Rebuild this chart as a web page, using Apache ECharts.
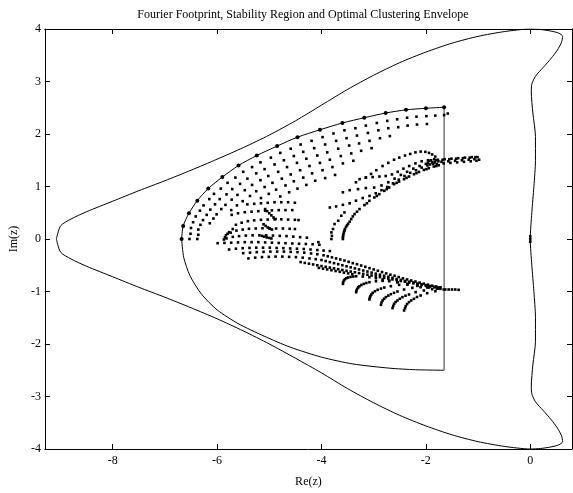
<!DOCTYPE html>
<html><head><meta charset="utf-8">
<script src="https://cdn.jsdelivr.net/npm/echarts@6/dist/echarts.min.js"></script>
<style>html,body{margin:0;padding:0;background:#fff}#c{width:573px;height:493px}</style>
</head><body><div id="c"></div>
<script>
// ---- stability region boundary ----
const stabUpperLeft = [[-9.08,0],[-9.0,0.25],[-8.8,0.38],[-8.5,0.52],[-8.0,0.72],[-7.5,0.92],[-7.0,1.11],[-6.5,1.31],[-6.0,1.52],[-5.5,1.74],[-5.0,1.98],[-4.5,2.25],[-4.0,2.55],[-3.5,2.85],[-3.0,3.12],[-2.5,3.36],[-2.0,3.56],[-1.5,3.73],[-1.0,3.86],[-0.5,3.95],[0,4.0]];
const stabRightUpper = [[0,4.0],[0.2,3.99],[0.4,3.96],[0.55,3.92],[0.62,3.86],[0.6,3.75],[0.52,3.6],[0.4,3.44],[0.25,3.27],[0.1,3.1],[0.03,2.95],[0.02,2.8],[0.05,2.4],[0.1,1.95],[0.1,1.5],[0.07,1.0],[0.03,0.5],[0,0]];
const stabLowerLeft = [[0,-4.0],[-0.5,-3.95],[-1.0,-3.86],[-1.5,-3.73],[-2.0,-3.56],[-2.5,-3.36],[-3.0,-3.12],[-3.5,-2.85],[-4.0,-2.55],[-4.5,-2.27],[-5.0,-2.0],[-5.5,-1.75],[-6.0,-1.52],[-6.5,-1.31],[-7.0,-1.11],[-7.5,-0.92],[-8.0,-0.72],[-8.5,-0.52],[-8.8,-0.38],[-9.0,-0.25],[-9.08,0]];

// ---- optimal clustering envelope ----
const envUpper = [[-1.65,2.51],[-2.0,2.49],[-2.38,2.46],[-2.77,2.40],[-3.18,2.31],[-3.60,2.21],[-4.03,2.08],[-4.46,1.94],[-4.85,1.77],[-5.24,1.59],[-5.59,1.40],[-5.90,1.18],[-6.17,0.96],[-6.38,0.73],[-6.54,0.49],[-6.65,0.25],[-6.68,0.0]];
const envLower = [[-6.68,0.0],[-6.64,-0.35],[-6.52,-0.7],[-6.3,-1.05],[-6.0,-1.35],[-5.6,-1.61],[-5.1,-1.85],[-4.6,-2.06],[-4.0,-2.25],[-3.4,-2.38],[-2.7,-2.46],[-2.2,-2.49],[-1.65,-2.5]];
const envEdge = [[-1.65,-2.5],[-1.65,2.51]];

// ---- Fourier footprint: upper band, rows parallel to the envelope ----
const rowU1 = [[-1.58,2.39],[-1.65,2.36],[-1.82,2.35],[-1.99,2.34],[-2.18,2.33],[-2.36,2.31],[-2.55,2.28],[-2.74,2.25],[-2.94,2.21],[-3.15,2.16],[-3.35,2.11],[-3.56,2.07],[-3.77,2.01],[-3.98,1.94],[-4.19,1.87],[-4.40,1.80],[-4.59,1.72],[-4.79,1.64],[-4.97,1.55],[-5.17,1.46],[-5.33,1.37],[-5.50,1.28],[-5.65,1.17],[-5.80,1.07],[-5.93,0.96],[-6.06,0.86],[-6.15,0.76],[-6.26,0.64],[-6.33,0.54],[-6.41,0.43],[-6.46,0.32],[-6.50,0.21],[-6.51,0.10],[-6.53,0.0]];
const rowU2 = [[-1.98,2.19],[-2.17,2.18],[-2.35,2.16],[-2.53,2.13],[-2.72,2.11],[-2.91,2.07],[-3.11,2.02],[-3.32,1.97],[-3.52,1.92],[-3.72,1.87],[-3.93,1.80],[-4.14,1.73],[-4.35,1.66],[-4.53,1.58],[-4.72,1.50],[-4.90,1.42],[-5.09,1.33],[-5.25,1.25],[-5.42,1.15],[-5.56,1.05],[-5.71,0.95],[-5.82,0.85],[-5.95,0.76],[-6.04,0.66],[-6.13,0.56],[-6.20,0.46],[-6.27,0.36],[-6.32,0.27],[-6.36,0.18],[-6.36,0.08],[-6.38,0.0]];
const rowU3 = [[-2.69,1.96],[-2.88,1.92],[-3.08,1.87],[-3.28,1.82],[-3.47,1.78],[-3.68,1.72],[-3.89,1.65],[-4.08,1.59],[-4.29,1.53],[-4.47,1.45],[-4.66,1.37],[-4.83,1.28],[-5.02,1.20],[-5.17,1.12],[-5.33,1.03],[-5.47,0.93],[-5.61,0.84],[-5.72,0.75],[-5.84,0.65],[-5.92,0.57],[-6.01,0.47],[-6.07,0.39],[-6.14,0.30]];
const rowU4 = [[-3.04,1.73],[-3.24,1.68],[-3.43,1.63],[-3.63,1.58],[-3.84,1.51],[-4.03,1.45],[-4.23,1.39],[-4.41,1.31],[-4.59,1.23],[-4.76,1.15],[-4.94,1.07],[-5.09,0.99],[-5.25,0.91],[-5.37,0.82],[-5.51,0.72],[-5.62,0.64],[-5.73,0.55]];
const rowU5 = [[-3.39,1.49],[-3.59,1.44],[-3.79,1.37],[-3.98,1.31],[-4.18,1.25],[-4.35,1.17],[-4.53,1.10],[-4.69,1.02],[-4.87,0.94],[-5.01,0.86],[-5.16,0.78]];
const rowU6 = [[-3.74,1.22],[-3.93,1.16],[-4.12,1.11],[-4.29,1.03],[-4.46,0.96],[-4.62,0.89],[-4.79,0.81]];

// ---- mid-left fan of rows ----
const fanA = [[-5.42,0.66],[-5.29,0.67],[-5.16,0.68],[-5.03,0.69],[-4.90,0.70],[-4.77,0.70],[-4.64,0.70],[-4.51,0.69]];
const fanB = [[-5.72,0.46],[-5.60,0.49],[-5.47,0.51],[-5.34,0.52],[-5.21,0.53],[-5.08,0.54],[-4.95,0.545],[-4.82,0.55],[-4.69,0.55],[-4.56,0.55]];
const fanC = [[-5.64,0.27],[-5.53,0.31],[-5.41,0.34],[-5.29,0.355],[-5.16,0.365],[-5.03,0.37],[-4.90,0.375],[-4.77,0.375],[-4.64,0.37],[-4.51,0.365],[-4.44,0.36]];
const fanD = [[-5.74,0.12],[-5.63,0.16],[-5.51,0.18],[-5.39,0.195],[-5.26,0.2],[-5.13,0.205],[-5.0,0.205],[-4.87,0.2],[-4.74,0.2],[-4.61,0.195],[-4.51,0.19]];
const fanE = [[-5.82,0.01],[-5.70,0.04],[-5.58,0.055],[-5.45,0.065],[-5.32,0.07],[-5.19,0.07],[-5.06,0.07],[-4.93,0.065],[-4.80,0.06],[-4.67,0.055],[-4.54,0.045],[-4.41,0.035],[-4.28,0.025]];
const fanF = [[-5.99,-0.08],[-5.86,-0.075],[-5.73,-0.07],[-5.60,-0.065],[-5.47,-0.06],[-5.34,-0.06],[-5.21,-0.06],[-5.08,-0.065],[-4.95,-0.07],[-4.82,-0.075],[-4.69,-0.08],[-4.56,-0.085],[-4.43,-0.09],[-4.30,-0.095],[-4.17,-0.10],[-4.04,-0.11]];
const fanG = [[-5.77,-0.20],[-5.64,-0.185],[-5.51,-0.175],[-5.38,-0.17],[-5.25,-0.165],[-5.12,-0.165],[-4.99,-0.165],[-4.86,-0.17],[-4.73,-0.175],[-4.60,-0.18],[-4.47,-0.185],[-4.34,-0.19],[-4.21,-0.20],[-4.08,-0.21],[-3.96,-0.22],[-3.84,-0.23]];
const fanHooks = [[-5.87,-0.01],[-5.85,0.03],[-5.83,0.07],[-5.80,0.10],[-5.77,0.13],[-5.70,0.19],
  [-5.08,0.57],[-5.04,0.53],[-5.0,0.49],[-4.96,0.45],[-4.92,0.41],[-4.88,0.38],
  [-5.11,0.28],[-5.07,0.25],[-5.03,0.22],[-4.99,0.20],[-4.95,0.18],
  [-5.14,0.06],[-5.10,0.045],[-5.05,0.03],[-5.0,0.02],[-4.96,0.01]];

// ---- lower tail band ----
const tailR1 = [[-5.50,-0.27],[-5.37,-0.26],[-5.24,-0.25],[-5.11,-0.245],[-4.98,-0.24],[-4.85,-0.24],[-4.72,-0.24],[-4.59,-0.245],[-4.46,-0.25],[-4.33,-0.26],[-4.20,-0.275],[-4.08,-0.29],[-3.96,-0.31],[-3.88,-0.33],[-3.80,-0.35],[-3.72,-0.37],[-3.64,-0.39],[-3.56,-0.41],[-3.48,-0.435],[-3.40,-0.46],[-3.32,-0.48],[-3.24,-0.505],[-3.16,-0.53],[-3.08,-0.555],[-3.0,-0.58],[-2.92,-0.605],[-2.84,-0.63],[-2.76,-0.655],[-2.68,-0.68],[-2.60,-0.70],[-2.52,-0.725],[-2.44,-0.75],[-2.36,-0.77],[-2.28,-0.79],[-2.20,-0.81],[-2.12,-0.83],[-2.04,-0.85],[-1.96,-0.87],[-1.88,-0.89],[-1.80,-0.905],[-1.72,-0.92]];
const tailR2 = [[-5.40,-0.37],[-5.27,-0.355],[-5.14,-0.345],[-5.01,-0.34],[-4.88,-0.335],[-4.75,-0.335],[-4.62,-0.34],[-4.49,-0.345],[-4.36,-0.355],[-4.23,-0.37],[-4.11,-0.385],[-4.0,-0.40],[-3.92,-0.42],[-3.84,-0.44],[-3.76,-0.46],[-3.68,-0.48],[-3.60,-0.50],[-3.52,-0.52],[-3.44,-0.54],[-3.36,-0.56],[-3.28,-0.58],[-3.20,-0.60],[-3.12,-0.62],[-3.04,-0.64],[-2.96,-0.66],[-2.88,-0.68],[-2.80,-0.70],[-2.72,-0.72],[-2.64,-0.74],[-2.56,-0.76],[-2.48,-0.78],[-2.40,-0.80],[-2.32,-0.815],[-2.24,-0.83],[-2.16,-0.85],[-2.08,-0.865],[-2.0,-0.88],[-1.92,-0.895],[-1.84,-0.91],[-1.76,-0.925]];
const tailR3 = [[-4.40,-0.44],[-4.32,-0.455],[-4.24,-0.47],[-4.16,-0.485],[-4.08,-0.50],[-4.0,-0.515],[-3.92,-0.53],[-3.84,-0.545],[-3.76,-0.56],[-3.68,-0.575],[-3.60,-0.59],[-3.52,-0.605],[-3.44,-0.62],[-3.36,-0.635],[-3.28,-0.65],[-3.20,-0.665],[-3.12,-0.68],[-3.04,-0.695],[-2.96,-0.71],[-2.88,-0.725],[-2.80,-0.74],[-2.72,-0.755],[-2.64,-0.77],[-2.56,-0.785],[-2.48,-0.80],[-2.40,-0.815],[-2.32,-0.83],[-2.24,-0.845],[-2.16,-0.86],[-2.08,-0.875],[-2.0,-0.89],[-1.92,-0.905],[-1.84,-0.92],[-1.76,-0.935]];
const tailR4 = [[-4.05,-0.55],[-3.97,-0.565],[-3.89,-0.58],[-3.81,-0.595],[-3.73,-0.61],[-3.65,-0.625],[-3.57,-0.64],[-3.49,-0.655],[-3.41,-0.67]];
const hook1 = [[-3.589,-0.855],[-3.585,-0.82],[-3.570,-0.791],[-3.55,-0.765],[-3.525,-0.747],[-3.49,-0.733],[-3.443,-0.722],[-3.39,-0.714],[-3.335,-0.709],[-3.209,-0.715],[-3.082,-0.728],[-2.956,-0.747],[-2.829,-0.772],[-2.703,-0.791],[-2.544,-0.823],[-2.354,-0.861],[-2.165,-0.893],[-1.975,-0.918],[-1.785,-0.937]];
const hook2 = [[-3.335,-1.013],[-3.33,-0.98],[-3.316,-0.949],[-3.295,-0.922],[-3.272,-0.899],[-3.235,-0.875],[-3.190,-0.855],[-3.14,-0.838],[-3.082,-0.823],[-2.956,-0.804],[-2.829,-0.798],[-2.703,-0.804],[-2.544,-0.823],[-2.355,-0.855],[-2.165,-0.886],[-1.975,-0.918],[-1.785,-0.937]];
const hook3 = [[-3.082,-1.152],[-3.075,-1.12],[-3.063,-1.089],[-3.045,-1.057],[-3.019,-1.025],[-2.975,-0.995],[-2.924,-0.968],[-2.86,-0.945],[-2.797,-0.924],[-2.671,-0.899],[-2.513,-0.874],[-2.354,-0.867],[-2.165,-0.880],[-1.975,-0.905],[-1.785,-0.937]];
const hook4 = [[-2.861,-1.253],[-2.85,-1.21],[-2.829,-1.171],[-2.80,-1.138],[-2.766,-1.108],[-2.72,-1.078],[-2.671,-1.051],[-2.61,-1.025],[-2.544,-1.000],[-2.418,-0.962],[-2.259,-0.930],[-2.101,-0.918],[-1.943,-0.924],[-1.753,-0.943]];
const hook5 = [[-2.639,-1.317],[-2.625,-1.275],[-2.608,-1.234],[-2.58,-1.20],[-2.544,-1.171],[-2.50,-1.138],[-2.449,-1.108],[-2.39,-1.08],[-2.323,-1.057],[-2.196,-1.013],[-2.038,-0.981],[-1.880,-0.956],[-1.722,-0.949]];
const hook6 = [[-2.418,-1.361],[-2.40,-1.32],[-2.386,-1.279],[-2.36,-1.24],[-2.323,-1.203],[-2.28,-1.17],[-2.228,-1.139],[-2.17,-1.105],[-2.101,-1.076],[-1.975,-1.032],[-1.817,-0.994],[-1.658,-0.962]];
const tailEnd = [[-1.627,-0.962],[-1.563,-0.962],[-1.500,-0.962],[-1.437,-0.962],[-1.373,-0.968]];

// ---- middle wing ----
const wingEdge = [[-3.59,0.0],[-3.59,0.03],[-3.585,0.06],[-3.58,0.095],[-3.57,0.13],[-3.56,0.16],[-3.55,0.19],[-3.53,0.23],[-3.51,0.26],[-3.49,0.29],[-3.46,0.33],[-3.43,0.38],[-3.40,0.43],[-3.367,0.475],[-3.32,0.52],[-3.272,0.57],[-3.177,0.646],[-3.13,0.68],[-3.082,0.728],[-2.987,0.791],[-2.94,0.82],[-2.892,0.854],[-2.797,0.918],[-2.75,0.95],[-2.703,0.981],[-2.608,1.044],[-2.56,1.07],[-2.513,1.095],[-2.418,1.139],[-2.37,1.165],[-2.323,1.19],[-2.228,1.234],[-2.18,1.255],[-2.133,1.278],[-2.038,1.316],[-1.99,1.33],[-1.943,1.348],[-1.848,1.380],[-1.80,1.39],[-1.753,1.405]];
const wingLeft = [[-4.06,-0.06],[-3.81,0.0],[-3.80,0.06],[-3.81,0.126],[-3.78,0.19],[-3.75,0.285],[-3.68,0.348],[-3.62,0.443],[-3.56,0.506]];
const wingR1 = [[-3.84,0.60],[-3.72,0.62],[-3.59,0.65],[-3.46,0.68],[-3.34,0.73],[-3.21,0.78],[-3.08,0.82],[-2.96,0.87],[-2.85,0.93],[-2.74,0.99],[-2.63,1.06],[-2.52,1.13],[-2.41,1.2],[-2.3,1.26],[-2.19,1.31],[-2.08,1.36],[-1.97,1.40],[-1.86,1.43]];
const wingR2 = [[-3.59,0.89],[-3.46,0.93],[-3.30,0.95],[-3.15,0.97],[-2.99,0.98],[-2.85,1.02],[-2.72,1.08],[-2.6,1.15],[-2.48,1.22],[-2.36,1.28],[-2.24,1.34],[-2.12,1.39],[-2.0,1.43],[-1.88,1.46],[-1.76,1.48]];
const wingR3 = [[-3.34,1.08],[-3.27,1.14],[-3.15,1.17],[-3.02,1.18],[-2.89,1.19],[-2.77,1.2],[-2.65,1.23],[-2.54,1.28],[-2.43,1.34],[-2.32,1.39],[-2.2,1.44],[-2.08,1.48],[-1.96,1.5],[-1.84,1.52]];
const wingArc = [[-3.15,1.17],[-3.05,1.24],[-2.95,1.31],[-2.83,1.39],[-2.72,1.45],[-2.61,1.51],[-2.51,1.55],[-2.40,1.59],[-2.30,1.62],[-2.20,1.65],[-2.10,1.665],[-2.01,1.66],[-1.94,1.64],[-1.88,1.61],[-1.82,1.57]];
const wingCurls = [[-1.90,1.50],[-1.94,1.49],[-1.96,1.45],[-1.92,1.42],
  [-1.77,1.51],[-1.81,1.50],[-1.83,1.46],[-1.79,1.43],
  [-1.64,1.52],[-1.68,1.51],[-1.70,1.47],[-1.66,1.44],
  [-1.51,1.53],[-1.55,1.52],[-1.57,1.48],[-1.53,1.45],
  [-1.38,1.54],[-1.42,1.53],[-1.44,1.49],[-1.40,1.46],
  [-1.25,1.55],[-1.29,1.54],[-1.31,1.50],[-1.27,1.47],
  [-1.12,1.56],[-1.16,1.55],[-1.18,1.51],[-1.14,1.48],
  [-1.01,1.56],[-1.05,1.56],[-1.07,1.52],[-1.03,1.49],[-0.98,1.51]];
const originCluster = [[0,0.05],[0,0.0],[0,-0.05]];

const xTicks = [-8,-6,-4,-2,0];

const stabLoop = stabUpperLeft
  .concat(stabRightUpper)
  .concat(stabRightUpper.slice().reverse().map(p => [p[0], -p[1]]))
  .concat(stabLowerLeft);

const footprint = [].concat(rowU1, rowU2, rowU3, rowU4, rowU5, rowU6,
  fanA, fanB, fanC, fanD, fanE, fanF, fanG, fanHooks,
  tailR1, tailR2, tailR3, tailR4, hook1, hook2, hook3, hook4, hook5, hook6, tailEnd,
  wingEdge, wingLeft, wingR1, wingR2, wingR3, wingArc, wingCurls, originCluster);

const font = 'Liberation Serif, Times New Roman, serif';
const chart = echarts.init(document.getElementById('c'));
const lineBase = {type:'line', showSymbol:false, symbol:'none', smooth:0.25, animation:false,
  lineStyle:{color:'#000', width:1}, silent:true, z:2};
const axisCommon = {axisLine:{show:true, onZero:false, lineStyle:{color:'#000', width:1}}, splitLine:{show:false}};
chart.setOption({
  backgroundColor:'#fff',
  animation:false,
  title:{text:'Fourier Footprint, Stability Region and Optimal Clustering Envelope', left:298, top:4, textAlign:'center',
    textStyle:{fontFamily:font, fontSize:12, fontWeight:'normal', color:'#000'}},
  grid:{left:41, right:1, top:29, bottom:42},
  xAxis:[
    Object.assign({type:'value', min:-9.3, max:0.8, position:'bottom', name:'Re(z)', nameLocation:'middle', nameGap:27,
     nameTextStyle:{fontFamily:font, fontSize:12, color:'#000'},
     axisTick:{show:true, inside:true, length:5, customValues:xTicks, lineStyle:{color:'#000'}},
     axisLabel:{customValues:xTicks, fontFamily:font, fontSize:12, color:'#000', margin:6}}, axisCommon),
    Object.assign({type:'value', min:-9.3, max:0.8, position:'top',
     axisTick:{show:true, inside:true, length:5, customValues:xTicks, lineStyle:{color:'#000'}},
     axisLabel:{show:false}}, axisCommon)
  ],
  yAxis:[
    Object.assign({type:'value', min:-4, max:4, interval:1, position:'left', name:'Im(z)', nameLocation:'middle', nameGap:22,
     nameTextStyle:{fontFamily:font, fontSize:12, color:'#000'},
     axisTick:{show:true, inside:true, length:5, lineStyle:{color:'#000'}},
     axisLabel:{fontFamily:font, fontSize:12, color:'#000', margin:4}}, axisCommon),
    Object.assign({type:'value', min:-4, max:4, interval:1, position:'right',
     axisTick:{show:true, inside:true, length:5, lineStyle:{color:'#000'}},
     axisLabel:{show:false}}, axisCommon)
  ],
  series:[
    Object.assign({}, lineBase, {data:stabLoop}),
    Object.assign({}, lineBase, {data:envUpper, showSymbol:true, symbol:'circle', symbolSize:4,
      itemStyle:{color:'#000', opacity:1}}),
    Object.assign({}, lineBase, {data:envLower}),
    Object.assign({}, lineBase, {data:envEdge, smooth:false, lineStyle:{color:'#777', width:1.5}}),
    {type:'scatter', data:footprint, symbol:'rect', symbolSize:2.6, itemStyle:{color:'#000', opacity:1},
     silent:true, animation:false, z:3}
  ]
});
</script>
</body></html>
